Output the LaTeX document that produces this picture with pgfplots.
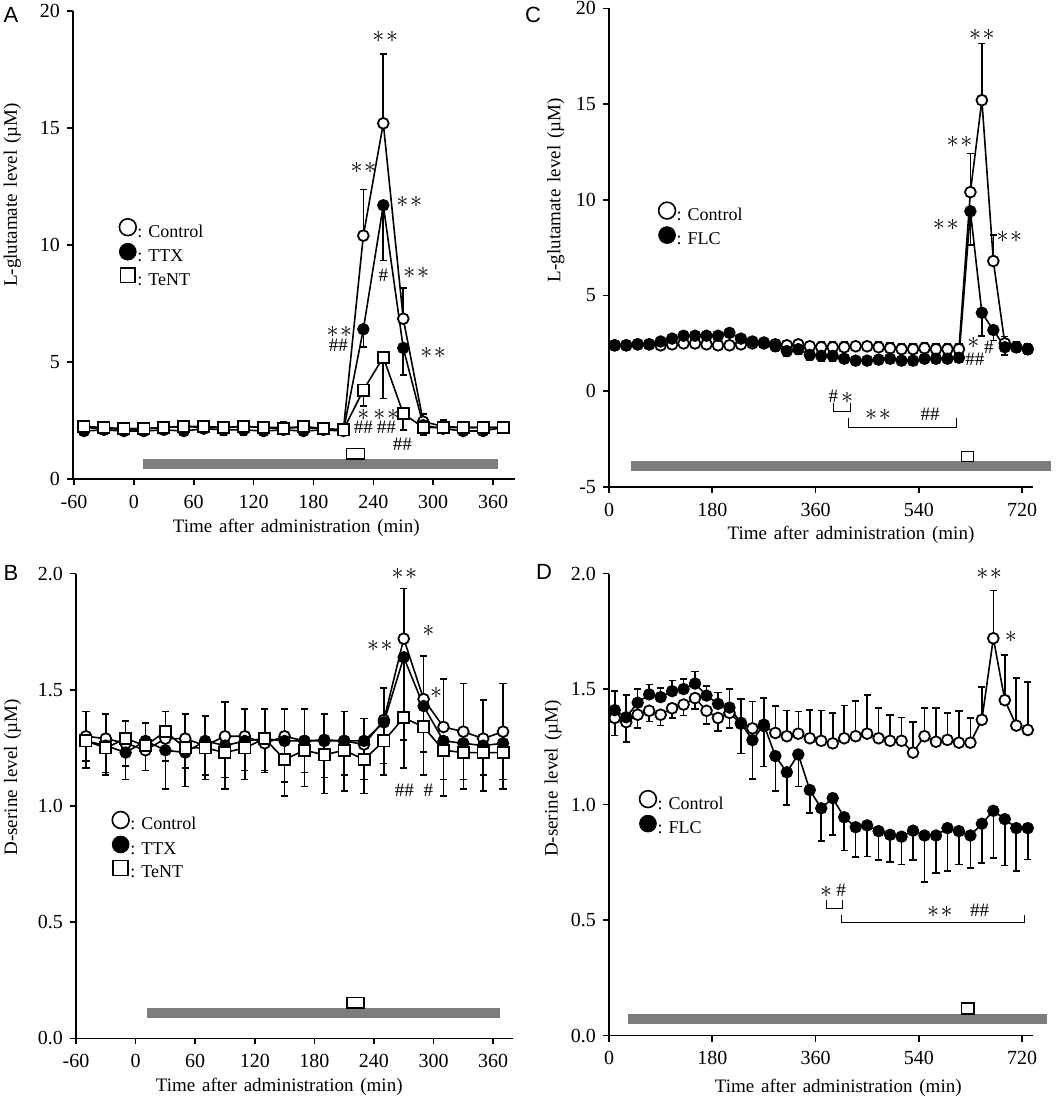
\documentclass[border=0pt]{standalone}
\usepackage{pgfplots}
\usepackage{pgfplotstable}
\pgfplotsset{compat=1.18}
\usetikzlibrary{arrows.meta}
\usepackage{fontspec}
\setmainfont{Liberation Serif}
\setsansfont{Liberation Sans}
\definecolor{barg}{RGB}{125,125,125}

\newcommand{\sst}{$\ast$\kern0.8pt$\ast$}
\newcommand{\st}{$\ast$}
\newcommand{\wsp}{\hspace{0.36em}}

\tikzset{
  ast/.style={font=\fontsize{11.5}{11.5}\selectfont, inner sep=0pt},
  hsh/.style={font=\fontsize{9.5}{9.5}\selectfont, inner sep=0pt},
}

\pgfplotsset{
  panel/.style={
    scale only axis, clip=false,
    axis lines*=left,
    axis line style={line width=0.8pt,-},
    tick align=outside, major tick length=3pt,
    every tick/.style={black, line width=0.8pt},
    tick label style={font=\fontsize{10}{12}\selectfont},
    xticklabel style={yshift=-1.5pt},
    /pgf/number format/assume math mode=true,
    label style={font=\fontsize{9.5}{11}\selectfont},
    legend image code/.code={\draw[##1] plot coordinates {(0pt,2.9pt)};},
    legend cell align=left,
    legend style={draw=none, fill=none, inner sep=0pt, outer sep=0pt,
      font=\fontsize{9}{10}\selectfont, row sep=0pt,
      nodes={inner sep=0.6pt, text height=6.6pt, text depth=2.5pt}},
  },
  eb/.style={forget plot, black, solid, line width=0.8pt, -{Bar[width=3.6pt]}},
  ebup/.style={eb, quiver={u=0, v={max(\thisrow{ep},0.0005)}}},
  ebdn/.style={eb, quiver={u=0, v={-max(\thisrow{em},0.0005)}}},
  sctrl/.style={black, line width=0.8pt, mark=*, mark size=2.7pt,
    mark options={fill=white, draw=black, solid, line width=0.9pt}, forget plot},
  sfill/.style={black, line width=0.8pt, mark=*, mark size=2.7pt,
    mark options={fill=black, draw=black, solid}, forget plot},
  ssq/.style={black, line width=0.8pt, mark=square*, mark size=2.8pt,
    mark options={fill=white, draw=black, solid, line width=0.9pt}, forget plot},
  lctrl/.style={mark=*, mark size=4.2pt, mark options={fill=white, draw=black, line width=0.8pt}},
  lfill/.style={mark=*, mark size=4.2pt, mark options={fill=black, draw=black}},
  lsq/.style={mark=square*, mark size=3.7pt, mark options={fill=white, draw=black, line width=0.8pt}},
}

% ---------------- Panel A data ----------------
\pgfplotstableread{
t v ep em
-50 2.20 0.25 0.25
-30 2.15 0.25 0.20
-10 2.15 0.30 0.20
10 2.15 0.30 0.25
30 2.20 0.30 0.25
50 2.25 0.25 0.25
70 2.20 0.25 0.20
90 2.20 0.25 0.25
110 2.25 0.25 0.25
130 2.20 0.25 0.20
150 2.20 0.30 0.25
170 2.20 0.25 0.20
190 2.15 0.25 0.20
210 2.10 0.20 0.20
230 10.40 2.00 0
250 15.20 3.00 0
270 6.85 1.35 0
290 2.45 0.35 0.30
310 2.25 0.30 0.25
330 2.20 0.25 0.20
350 2.20 0.20 0.20
370 2.20 0.20 0.20
}\Actrl
\pgfplotstableread{
t v ep em
-50 2.05 0.2 0.2
-30 2.10 0.2 0.2
-10 2.05 0.25 0.2
10 2.05 0.2 0.2
30 2.10 0.2 0.2
50 2.05 0.2 0.2
70 2.15 0.2 0.2
90 2.10 0.2 0.25
110 2.10 0.2 0.25
130 2.05 0.2 0.2
150 2.10 0.2 0.2
170 2.05 0.2 0.2
190 2.10 0.2 0.2
210 2.05 0.2 0.2
230 6.40 0 0.80
250 11.70 0 2.40
270 5.60 0 1.20
290 2.30 0 0.45
310 2.15 0.25 0.2
330 2.05 0.2 0.2
350 2.05 0.2 0.2
370 2.20 0.2 0.2
}\Attx
\pgfplotstableread{
t v ep em
-50 2.25 0.2 0.2
-30 2.20 0.2 0.2
-10 2.15 0.2 0.2
10 2.15 0.2 0.2
30 2.20 0.25 0.2
50 2.25 0.2 0.2
70 2.25 0.2 0.2
90 2.20 0.2 0.2
110 2.25 0.2 0.2
130 2.20 0.2 0.2
150 2.15 0.25 0.2
170 2.25 0.2 0.2
190 2.15 0.2 0.2
210 2.10 0.2 0.2
230 3.80 0 0.72
250 5.20 0 1.80
270 2.80 0 0.75
290 2.20 0.2 0.2
310 2.20 0.2 0.2
330 2.20 0.2 0.2
350 2.20 0.2 0.2
370 2.20 0.2 0.2
}\Atent

% ---------------- Panel B data ----------------
\pgfplotstableread{
t v ep em
-50 1.30 0.11 0
-30 1.29 0.11 0
-10 1.27 0.10 0
10 1.24 0.12 0
30 1.29 0.12 0
50 1.29 0.11 0
70 1.26 0.13 0
90 1.30 0.15 0
110 1.30 0.12 0
130 1.27 0.15 0
150 1.30 0.12 0
170 1.28 0.14 0
190 1.28 0.12 0
210 1.28 0.13 0
230 1.265 0.115 0
250 1.37 0.14 0
270 1.72 0.22 0
290 1.46 0.19 0
310 1.34 0.21 0
330 1.32 0.21 0
350 1.29 0.17 0
370 1.32 0.21 0
}\Bctrl
\pgfplotstableread{
t v ep em
-50 1.28 0 0.12
-30 1.26 0 0.13
-10 1.23 0 0.12
10 1.28 0 0.13
30 1.24 0 0.17
50 1.23 0 0.15
70 1.28 0 0.17
90 1.26 0 0.19
110 1.28 0 0.17
130 1.29 0 0.15
150 1.28 0 0.24
170 1.28 0 0.20
190 1.285 0 0.235
210 1.28 0 0.22
230 1.28 0 0.23
250 1.36 0 0.23
270 1.64 0 0.48
290 1.43 0 0.30
310 1.28 0 0.24
330 1.27 0 0.20
350 1.26 0 0.20
370 1.27 0 0.20
}\Bttx
\pgfplotstableread{
t v ep em
-50 1.28 0 0.09
-30 1.25 0 0.11
-10 1.29 0 0.12
10 1.26 0 0.11
30 1.32 0 0.13
50 1.25 0 0.09
70 1.25 0 0.12
90 1.23 0 0.11
110 1.25 0 0.10
130 1.29 0 0.14
150 1.20 0 0.10
170 1.24 0 0.10
190 1.22 0 0.10
210 1.24 0 0.11
230 1.20 0 0.09
250 1.28 0 0.10
270 1.38 0 0.10
290 1.34 0 0.11
310 1.24 0 0.13
330 1.23 0 0.12
350 1.23 0 0.10
370 1.23 0 0.12
}\Btent

% ---------------- Panel C data ----------------
\pgfplotstableread{
t v ep em
10 2.40 0.3 0
30 2.40 0.3 0
50 2.45 0.3 0
70 2.45 0.3 0
90 2.40 0.3 0
110 2.45 0.3 0
130 2.50 0.3 0
150 2.50 0.3 0
170 2.45 0.3 0
190 2.40 0.3 0
210 2.40 0.3 0
230 2.45 0.3 0
250 2.50 0.3 0
270 2.50 0.3 0
290 2.45 0.3 0
310 2.40 0.3 0
330 2.45 0.3 0
350 2.35 0.3 0
370 2.30 0.3 0
390 2.30 0.3 0
410 2.30 0.3 0
430 2.35 0.3 0
450 2.35 0.3 0
470 2.30 0.3 0
490 2.25 0.3 0
510 2.20 0.3 0
530 2.20 0.3 0
550 2.25 0.3 0
570 2.20 0.3 0
590 2.20 0.3 0
610 2.20 0.3 0
630 10.40 2.05 0
650 15.20 3.0 0
670 6.80 1.4 0
690 2.50 0.4 0
710 2.30 0.3 0
730 2.20 0.3 0
}\Cctrl
\pgfplotstableread{
t v ep em
10 2.40 0 0.3
30 2.40 0 0.3
50 2.45 0 0.25
70 2.45 0 0.25
90 2.60 0 0.25
110 2.75 0 0.25
130 2.90 0 0.25
150 2.90 0 0.25
170 2.90 0 0.25
190 2.90 0 0.25
210 3.05 0 0.25
230 2.75 0 0.25
250 2.60 0 0.25
270 2.55 0 0.25
290 2.35 0 0.3
310 2.10 0 0.3
330 2.20 0 0.3
350 1.90 0 0.3
370 1.85 0 0.3
390 1.85 0 0.3
410 1.70 0 0.3
430 1.60 0 0.3
450 1.60 0 0.3
470 1.65 0 0.3
490 1.70 0 0.25
510 1.60 0 0.3
530 1.60 0 0.3
550 1.70 0 0.25
570 1.70 0 0.25
590 1.70 0 0.25
610 1.75 0 0.25
630 9.40 0 1.8
650 4.10 0 1.25
670 3.20 0 0.6
690 2.30 0 0.45
710 2.30 0 0.3
730 2.20 0 0.3
}\Cflc

% ---------------- Panel D data ----------------
\pgfplotstableread{
t v ep em
10 1.375 0 0.08
30 1.357 0 0.09
50 1.389 0 0.06
70 1.406 0 0.05
90 1.389 0 0.05
110 1.417 0 0.045
130 1.433 0 0.05
150 1.461 0 0.05
170 1.406 0 0.06
190 1.375 0 0.06
210 1.397 0 0.07
230 1.350 0.11 0
250 1.330 0.12 0
270 1.340 0.125 0
290 1.310 0.12 0
310 1.296 0.115 0
330 1.307 0.10 0
350 1.287 0.125 0
370 1.276 0.135 0
390 1.265 0.135 0
410 1.287 0.145 0
430 1.296 0.155 0
450 1.307 0.17 0
470 1.287 0.135 0
490 1.276 0.115 0
510 1.276 0.105 0
530 1.225 0.135 0
550 1.296 0.125 0
570 1.272 0.15 0
590 1.280 0.12 0
610 1.268 0.14 0
630 1.268 0.11 0
650 1.367 0.145 0
670 1.720 0.21 0
690 1.452 0.20 0
710 1.342 0.21 0
730 1.323 0.21 0
}\Dctrl
\pgfplotstableread{
t v ep em
10 1.409 0.087 0
30 1.378 0.10 0
50 1.441 0.063 0
70 1.477 0.046 0
90 1.465 0.042 0
110 1.491 0.05 0
130 1.500 0.046 0
150 1.524 0.056 0
170 1.472 0.045 0
190 1.436 0.052 0
210 1.420 0.084 0
230 1.354 0 0.137
250 1.279 0 0.173
270 1.346 0 0.185
290 1.210 0 0.155
310 1.140 0 0.145
330 1.217 0 0.143
350 1.063 0 0.102
370 0.984 0 0.146
390 1.028 0 0.162
410 0.945 0 0.147
430 0.902 0 0.133
450 0.910 0 0.138
470 0.885 0 0.129
490 0.869 0 0.121
510 0.861 0 0.124
530 0.887 0 0.131
550 0.866 0 0.205
570 0.866 0 0.165
590 0.898 0 0.189
610 0.885 0 0.148
630 0.866 0 0.145
650 0.917 0 0.174
670 0.973 0 0.209
690 0.937 0 0.205
710 0.898 0 0.189
730 0.898 0 0.139
}\Dflc

\begin{document}
\begin{tikzpicture}
\useasboundingbox (0,0) rectangle (531.5pt,-550pt);

% ===================== A =====================
\begin{axis}[panel, at={(36.5pt,-5.5pt)}, anchor=north west,
  width=221pt, height=234pt,
  xmin=-61, xmax=382, ymin=0, ymax=20,
  xtick={-60,0,60,...,360}, ytick={0,5,10,15,20},
  xlabel={Time\wsp after\wsp administration\wsp (min)},
  ylabel={L-glutamate\wsp level\wsp (µM)},
  xlabel style={at={(axis description cs:0.505,0)}, anchor=center, yshift=-24.5pt},
  ylabel style={at={(axis description cs:-0.137,0.607)}, anchor=center},
  legend style={at={(axis description cs:0.105,0.556)}, anchor=north west},
]
\addlegendimage{lctrl}
\addlegendimage{lfill}
\addlegendimage{lsq}
\legend{: Control, : TTX, : TeNT}
\addplot[fill=barg, draw=none, forget plot] coordinates {(9,0.43) (365,0.43) (365,0.86) (9,0.86)} -- cycle;
\addplot[fill=white, draw=black, line width=0.7pt, forget plot] coordinates {(213,0.86) (231,0.86) (231,1.3) (213,1.3)} -- cycle;
\addplot[ebup] table[x=t, y=v] {\Actrl};
\addplot[ebdn] table[x=t, y=v] {\Actrl};
\addplot[ebup] table[x=t, y=v] {\Attx};
\addplot[ebdn] table[x=t, y=v] {\Attx};
\addplot[ebup] table[x=t, y=v] {\Atent};
\addplot[ebdn] table[x=t, y=v] {\Atent};
\addplot[sctrl] table[x=t, y=v] {\Actrl};
\addplot[sfill] table[x=t, y=v] {\Attx};
\addplot[ssq] table[x=t, y=v] {\Atent};
\node[ast] at (axis cs:252,18.9) {\sst};
\node[ast] at (axis cs:230,13.3) {\sst};
\node[ast] at (axis cs:276,11.85) {\sst};
\node[hsh] at (axis cs:250,8.7) {\#};
\node[ast] at (axis cs:283,8.8) {\sst};
\node[ast] at (axis cs:206,6.3) {\sst};
\node[hsh] at (axis cs:205,5.7) {\#\#};
\node[ast] at (axis cs:300,5.4) {\sst};
\node[ast] at (axis cs:230,2.73) {\st};
\node[hsh] at (axis cs:230,2.2) {\#\#};
\node[ast] at (axis cs:253,2.73) {\sst};
\node[hsh] at (axis cs:253,2.2) {\#\#};
\node[hsh] at (axis cs:269,1.5) {\#\#};
\end{axis}

% ===================== B =====================
\begin{axis}[panel, at={(38pt,-286.8pt)}, anchor=north west,
  width=218.5pt, height=232.4pt,
  xmin=-60, xmax=380, ymin=0, ymax=2,
  xtick={-60,0,60,...,360}, ytick={0,0.5,1,1.5,2},
  yticklabel style={/pgf/number format/.cd, fixed, fixed zerofill, precision=1},
  xlabel={Time\wsp after\wsp administration\wsp (min)},
  ylabel={D-serine\wsp level\wsp (µM)},
  xlabel style={at={(axis description cs:0.465,0)}, anchor=center, yshift=-24pt},
  ylabel style={at={(axis description cs:-0.145,0.562)}, anchor=center},
  legend style={at={(axis description cs:0.083,0.488)}, anchor=north west},
]
\addlegendimage{lctrl}
\addlegendimage{lfill}
\addlegendimage{lsq}
\legend{: Control, : TTX, : TeNT}
\addplot[fill=barg, draw=none, forget plot] coordinates {(11,0.088) (367,0.088) (367,0.13) (11,0.13)} -- cycle;
\addplot[fill=white, draw=black, line width=0.7pt, forget plot] coordinates {(213,0.13) (230,0.13) (230,0.177) (213,0.177)} -- cycle;
\addplot[ebup] table[x=t, y=v] {\Bctrl};
\addplot[ebdn] table[x=t, y=v] {\Bttx};
\addplot[ebdn] table[x=t, y=v] {\Btent};
\addplot[sctrl] table[x=t, y=v] {\Bctrl};
\addplot[sfill] table[x=t, y=v] {\Bttx};
\addplot[ssq] table[x=t, y=v] {\Btent};
\node[ast] at (axis cs:270.7,2.0) {\sst};
\node[ast] at (axis cs:246,1.687) {\sst};
\node[ast] at (axis cs:294.8,1.753) {\st};
\node[ast] at (axis cs:302.5,1.487) {\st};
\node[hsh] at (axis cs:270.7,1.069) {\#\#};
\node[hsh] at (axis cs:294.8,1.069) {\#};
\end{axis}

% ===================== C =====================
\begin{axis}[panel, at={(304.5pt,-4.15pt)}, anchor=north west,
  width=212.25pt, height=239.35pt,
  xmin=0, xmax=740, ymin=-5, ymax=20,
  xtick={0,180,360,540,720}, ytick={-5,0,5,10,15,20},
  xlabel={Time\wsp after\wsp administration\wsp (min)},
  ylabel={L-glutamate\wsp level\wsp (µM)},
  xlabel style={at={(axis description cs:0.57,0)}, anchor=center, yshift=-24pt},
  ylabel style={at={(axis description cs:-0.125,0.62)}, anchor=center},
  legend style={at={(axis description cs:0.117,0.595)}, anchor=north west},
]
\addlegendimage{lctrl}
\addlegendimage{lfill}
\legend{: Control, : FLC}
\addplot[fill=barg, draw=none, forget plot] coordinates {(39,-4.18) (771,-4.18) (771,-3.66) (39,-3.66)} -- cycle;
\addplot[fill=white, draw=black, line width=0.7pt, forget plot] coordinates {(614,-3.66) (635,-3.66) (635,-3.14) (614,-3.14)} -- cycle;
\addplot[ebup] table[x=t, y=v] {\Cctrl};
\addplot[ebdn] table[x=t, y=v] {\Cflc};
\addplot[sctrl] table[x=t, y=v] {\Cctrl};
\addplot[sfill] table[x=t, y=v] {\Cflc};
\node[ast] at (axis cs:650,18.6) {\sst};
\node[ast] at (axis cs:611,13) {\sst};
\node[ast] at (axis cs:587,8.7) {\sst};
\node[ast] at (axis cs:698,8.07) {\sst};
\node[ast] at (axis cs:635,2.5) {\st};
\node[hsh] at (axis cs:638,1.65) {\#\#};
\node[hsh] at (axis cs:662,2.3) {\#};
\node[hsh] at (axis cs:391,-0.26) {\#};
\node[ast] at (axis cs:415,-0.35) {\st};
\draw[line width=0.6pt] (axis cs:391,-0.61) -- (axis cs:391,-1.045) -- (axis cs:421,-1.045) -- (axis cs:421,-0.61);
\draw[line width=0.6pt] (axis cs:418,-1.39) -- (axis cs:418,-1.88) -- (axis cs:606,-1.88) -- (axis cs:606,-1.39);
\node[ast] at (axis cs:469,-1.22) {\sst};
\node[hsh] at (axis cs:560,-1.22) {\#\#};
\end{axis}

% ===================== D =====================
\begin{axis}[panel, at={(304.5pt,-286.8pt)}, anchor=north west,
  width=212.25pt, height=230.95pt,
  xmin=0, xmax=740, ymin=0, ymax=2,
  xtick={0,180,360,540,720}, ytick={0,0.5,1,1.5,2},
  yticklabel style={/pgf/number format/.cd, fixed, fixed zerofill, precision=1},
  xlabel={Time\wsp after\wsp administration\wsp (min)},
  ylabel={D-serine\wsp level\wsp (µM)},
  xlabel style={at={(axis description cs:0.54,0)}, anchor=center, yshift=-26pt},
  ylabel style={at={(axis description cs:-0.132,0.556)}, anchor=center},
  legend style={at={(axis description cs:0.072,0.53)}, anchor=north west},
]
\addlegendimage{lctrl}
\addlegendimage{lfill}
\legend{: Control, : FLC}
\addplot[fill=barg, draw=none, forget plot] coordinates {(33,0.05) (763,0.05) (763,0.093) (33,0.093)} -- cycle;
\addplot[fill=white, draw=black, line width=0.7pt, forget plot] coordinates {(615,0.093) (636,0.093) (636,0.14) (615,0.14)} -- cycle;
\addplot[ebup] table[x=t, y=v] {\Dctrl};
\addplot[ebdn] table[x=t, y=v] {\Dctrl};
\addplot[ebup] table[x=t, y=v] {\Dflc};
\addplot[ebdn] table[x=t, y=v] {\Dflc};
\addplot[sctrl] table[x=t, y=v] {\Dctrl};
\addplot[sfill] table[x=t, y=v] {\Dflc};
\node[ast] at (axis cs:662.6,2.0) {\sst};
\node[ast] at (axis cs:700.6,1.724) {\st};
\node[ast] at (axis cs:378.7,0.622) {\st};
\node[hsh] at (axis cs:404.7,0.63) {\#};
\draw[line width=0.6pt] (axis cs:378.7,0.586) -- (axis cs:378.7,0.551) -- (axis cs:407.7,0.551) -- (axis cs:407.7,0.586);
\draw[line width=0.6pt] (axis cs:405.9,0.52) -- (axis cs:405.9,0.491) -- (axis cs:724.8,0.491) -- (axis cs:724.8,0.52);
\node[ast] at (axis cs:576.8,0.535) {\sst};
\node[hsh] at (axis cs:646.3,0.543) {\#\#};
\end{axis}

% panel letters
\node[font=\sffamily\fontsize{11}{11}\selectfont] at (5.5pt,-7.5pt) {A};
\node[font=\sffamily\fontsize{11}{11}\selectfont] at (266.5pt,-7.5pt) {C};
\node[font=\sffamily\fontsize{11}{11}\selectfont] at (5.5pt,-286.5pt) {B};
\node[font=\sffamily\fontsize{11}{11}\selectfont] at (272pt,-286pt) {D};
\end{tikzpicture}
\end{document}
